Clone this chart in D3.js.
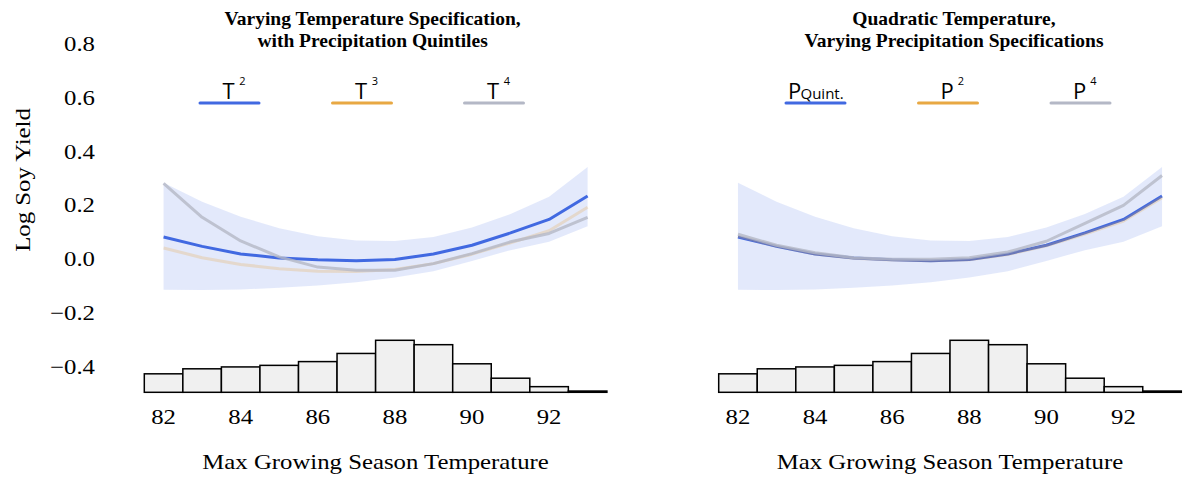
<!DOCTYPE html>
<html lang="en">
<head>
<meta charset="utf-8">
<title>Log Soy Yield vs Max Growing Season Temperature</title>
<script src="https://cdn.jsdelivr.net/npm/d3@7"></script>
<style>
  body { margin: 0; background: #fff; }
  svg { display: block; }
</style>
</head>
<body>
<div id="chart"></div>
<script>
// temperature bins (deg F)
var temps = [82, 83, 84, 85, 86, 87, 88, 89, 90, 91, 92, 93];
// share of observations in each 1-degree bin
var histShare = [0.059, 0.075, 0.081, 0.086, 0.098, 0.124, 0.166, 0.152, 0.091, 0.045, 0.018, 0.004];
// confidence band of the baseline model
var bandLower = [-0.113, -0.114, -0.112, -0.106, -0.097, -0.085, -0.068, -0.044, -0.006, 0.034, 0.065, 0.123];
var bandUpper = [0.284, 0.214, 0.158, 0.115, 0.086, 0.070, 0.068, 0.083, 0.118, 0.168, 0.232, 0.343];
// left panel: temperature polynomials
var tSquare = [0.083, 0.048, 0.020, 0.005, -0.002, -0.005, -0.001, 0.020, 0.052, 0.098, 0.148, 0.235];
var tCube   = [0.042, 0.006, -0.019, -0.035, -0.044, -0.045, -0.038, -0.016, 0.019, 0.061, 0.106, 0.193];
var tFourth = [0.282, 0.156, 0.068, 0.009, -0.029, -0.041, -0.041, -0.016, 0.021, 0.065, 0.096, 0.156];
// right panel: precipitation specifications
var pQuint  = [0.083, 0.048, 0.020, 0.005, -0.002, -0.005, -0.001, 0.020, 0.052, 0.098, 0.148, 0.235];
var pSquare = [0.086, 0.049, 0.020, 0.004, -0.003, -0.005, -0.002, 0.018, 0.050, 0.094, 0.142, 0.229];
var pFourth = [0.093, 0.052, 0.024, 0.006, 0.000, 0.000, 0.006, 0.027, 0.067, 0.133, 0.200, 0.311];

var xTicks = [82, 84, 86, 88, 90, 92];
var yTicks = [-0.4, -0.2, 0.0, 0.2, 0.4, 0.6, 0.8];

var blue = "#4169e1", orange = "#e8a843", gray = "#b4b8c6";

var W = 1183, H = 485;
var svg = d3.select("#chart").append("svg")
  .attr("width", W).attr("height", H);

var serif = "'Liberation Serif', 'Times New Roman', serif";
var sans = "'Open Sans', 'DejaVu Sans', sans-serif";
var wide = 1.18; // the reference serif is drawn a bit wider than Liberation Serif

// text helper: serif text, stretched horizontally
function serifText(sel, x, yy, str, anchor, rot) {
  return sel.append("text")
    .attr("transform", "translate(" + x + "," + yy + ")" + (rot ? " rotate(" + rot + ")" : "") + " scale(" + wide + ",1)")
    .attr("text-anchor", anchor)
    .style("font-family", serif).style("font-size", "21px")
    .text(str);
}

var y = d3.scaleLinear().domain([0, 0.8]).range([259.3, 43.8]);

// y axis (labels only, no line)
yTicks.forEach(function(d) {
  serifText(svg, 95, y(d) + 7, d3.format(".1f")(d).replace("-", "\u2013"), "end");
});
serifText(svg, 30, 180, "Log Soy Yield", "middle", -90);

var panels = [
  { left: 144.3, titleShift: -3, title: ["Varying Temperature Specification,", "with Precipitation Quintiles"],
    series: [tSquare, tCube, tFourth],
    legend: [{ cx: 229.5, base: "T", sup: "2", color: blue },
             { cx: 362, base: "T", sup: "3", color: orange },
             { cx: 494, base: "T", sup: "4", color: gray }] },
  { left: 718.7, titleShift: 4, title: ["Quadratic Temperature,", "Varying Precipitation Specifications"],
    series: [pQuint, pSquare, pFourth],
    legend: [{ cx: 815.5, base: "P", sub: "Quint.", color: blue },
             { cx: 948, base: "P", sup: "2", color: orange },
             { cx: 1080.5, base: "P", sup: "4", color: gray }] }
];

var lineStyles = [
  { color: blue, opacity: 1 },
  { color: orange, opacity: 0.25 },
  { color: gray, opacity: 0.8 }
];

var histY = d3.scaleLinear().domain([0, 0.166]).range([392.3, 340.3]);

panels.forEach(function(p) {
  var x = d3.scaleLinear().domain([81.5, 93.5]).range([p.left, p.left + 12 * 38.55]);
  var g = svg.append("g");
  var mid = (x.range()[0] + x.range()[1]) / 2;

  // title
  var t = g.append("text")
    .attr("text-anchor", "middle")
    .style("font-family", serif).style("font-size", "19.5px").style("font-weight", "bold");
  t.append("tspan").attr("x", mid + p.titleShift).attr("y", 25).text(p.title[0]);
  t.append("tspan").attr("x", mid + p.titleShift).attr("y", 47).text(p.title[1]);

  // band
  var area = d3.area()
    .x(function(d, i) { return x(temps[i]); })
    .y0(function(d, i) { return y(bandLower[i]); })
    .y1(function(d, i) { return y(bandUpper[i]); });
  g.append("path").datum(temps)
    .attr("d", area)
    .attr("fill", blue).attr("fill-opacity", 0.15);

  // lines
  var line = d3.line()
    .x(function(d, i) { return x(temps[i]); })
    .y(function(d) { return y(d); });
  p.series.forEach(function(s, k) {
    g.append("path").datum(s)
      .attr("d", line)
      .attr("fill", "none")
      .attr("stroke", lineStyles[k].color)
      .attr("stroke-opacity", lineStyles[k].opacity)
      .attr("stroke-width", 3)
      .attr("stroke-linejoin", "round");
  });

  // histogram
  g.append("g").selectAll("rect")
    .data(histShare).enter().append("rect")
    .attr("x", function(d, i) { return x(temps[i] - 0.5); })
    .attr("width", function(d, i) { return x(temps[i] + 0.5) - x(temps[i] - 0.5); })
    .attr("y", function(d) { return histY(d); })
    .attr("height", function(d) { return histY(0) - histY(d); })
    .attr("fill", "#f0f0f0")
    .attr("stroke", "#000").attr("stroke-width", 1.5);

  // x tick labels
  xTicks.forEach(function(d) {
    serifText(g, x(d), 424, d, "middle");
  });
  serifText(g, mid, 469, "Max Growing Season Temperature", "middle");

  // legend
  p.legend.forEach(function(l) {
    g.append("line")
      .attr("x1", l.cx - 29.5).attr("x2", l.cx + 29.5)
      .attr("y1", 103).attr("y2", 103)
      .attr("stroke", l.color).attr("stroke-width", 3)
      .attr("stroke-linecap", "round");
    if (l.sub) {
      g.append("text")
        .attr("x", l.cx - 27.5).attr("y", 99)
        .style("font-family", sans).style("font-size", "22px")
        .text(l.base);
      g.append("text")
        .attr("x", l.cx - 15).attr("y", 99)
        .style("font-family", sans).style("font-size", "15px")
        .text(l.sub);
    } else {
      g.append("text")
        .attr("x", l.cx - 1).attr("y", 99)
        .attr("text-anchor", "middle")
        .style("font-family", sans).style("font-size", "22px")
        .text(l.base);
      g.append("text")
        .attr("x", l.cx + 13).attr("y", 85)
        .attr("text-anchor", "middle")
        .style("font-family", sans).style("font-size", "11px")
        .text(l.sup);
    }
  });
});
</script>
</body>
</html>
